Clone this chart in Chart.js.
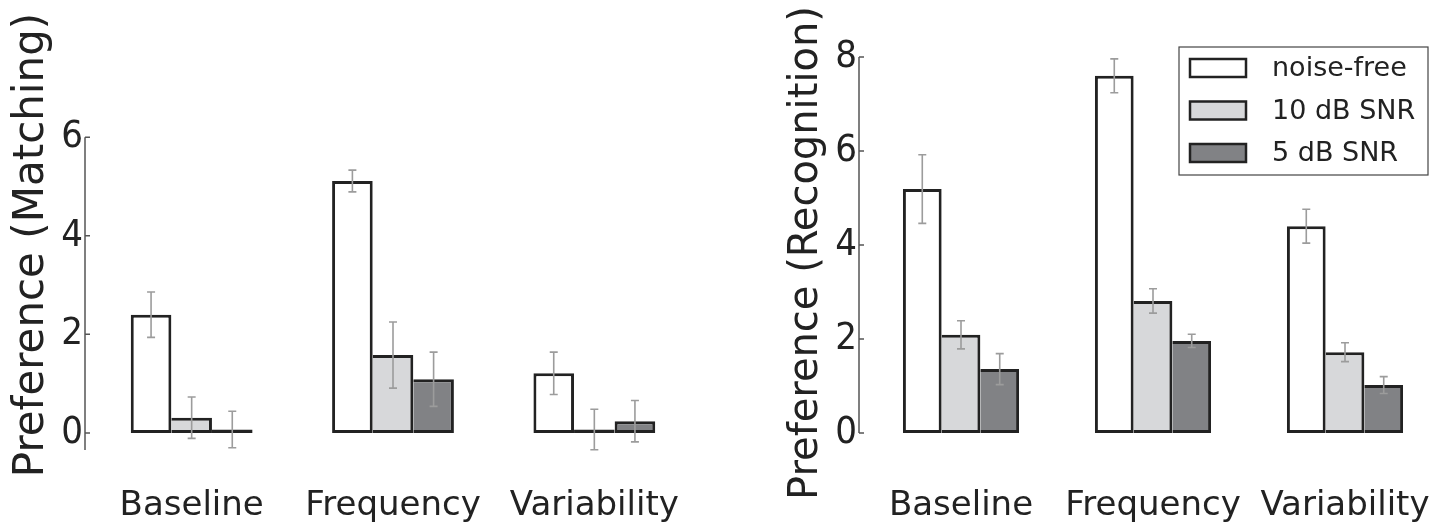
<!DOCTYPE html>
<html>
<head>
<meta charset="utf-8">
<script src="https://cdn.jsdelivr.net/npm/chart.js@4.4.1/dist/chart.umd.min.js"></script>
<style>
  html, body { margin: 0; padding: 0; background: #fff; }
  #wrap { position: relative; width: 1441px; height: 523px; overflow: hidden; }
  .box { position: absolute; top: 0; height: 523px; }
  #left { left: 0; width: 720px; }
  #right { left: 720px; width: 721px; }
</style>
</head>
<body>
<div id="wrap">
  <div class="box" id="left"><canvas id="matching"></canvas></div>
  <div class="box" id="right"><canvas id="recognition"></canvas></div>
</div>
<script>
"use strict";

const categories = ["Baseline", "Frequency", "Variability"],
  seriesNames = ["noise-free", "10 dB SNR", "5 dB SNR"],
  // matching panel
  matchNoiseFree = [2.40, 5.11, 1.21],
  matchSnr10 = [0.31, 1.58, 0.07],
  matchSnr5 = [0.07, 1.09, 0.24],
  matchErrNoiseFree = [0.46, 0.22, 0.43],
  matchErrSnr10 = [0.42, 0.67, 0.41],
  matchErrSnr5 = [0.37, 0.55, 0.42],
  matchTicks = [0, 2, 4, 6],
  // recognition panel
  recogNoiseFree = [5.19, 7.60, 4.40],
  recogSnr10 = [2.09, 2.81, 1.72],
  recogSnr5 = [1.36, 1.96, 1.02],
  recogErrNoiseFree = [0.73, 0.36, 0.36],
  recogErrSnr10 = [0.30, 0.26, 0.20],
  recogErrSnr5 = [0.33, 0.14, 0.18],
  recogTicks = [0, 2, 4, 6, 8];

const fills = ["#ffffff", "#d7d8da", "#818285"],
  edge = "#222222";

// the taller of two neighbouring bars draws their shared edge, so it stays one line thick
function barBorder(c) {
  const sets = c.chart.data.datasets,
    i = c.datasetIndex,
    j = c.dataIndex,
    v = sets[i].data[j];
  return {
    top: 3,
    bottom: 3,
    left: i === 0 || v > sets[i - 1].data[j] ? 3 : 0,
    right: i === sets.length - 1 || v >= sets[i + 1].data[j] ? 3 : 0,
  };
}

// spine with inward ticks, error bars and the framed legend
const paperPlugin = {
  id: "paper",
  afterDatasetsDraw(chart, args, opts) {
    const ctx = chart.ctx,
      y = chart.scales.y;
    ctx.save();
    ctx.strokeStyle = "#9c9c9c";
    ctx.lineWidth = 1.6;
    chart.data.datasets.forEach((ds, i) => {
      chart.getDatasetMeta(i).data.forEach((bar, j) => {
        const top = y.getPixelForValue(ds.data[j] + ds.errors[j]),
          bot = y.getPixelForValue(ds.data[j] - ds.errors[j]);
        ctx.beginPath();
        ctx.moveTo(bar.x, top);
        ctx.lineTo(bar.x, bot);
        ctx.moveTo(bar.x - 4, top);
        ctx.lineTo(bar.x + 4, top);
        ctx.moveTo(bar.x - 4, bot);
        ctx.lineTo(bar.x + 4, bot);
        ctx.stroke();
      });
    });

    const sx = chart.chartArea.left - opts.offset;
    ctx.strokeStyle = "#555";
    ctx.lineWidth = 1.5;
    ctx.beginPath();
    ctx.moveTo(sx, y.getPixelForValue(opts.from));
    ctx.lineTo(sx, y.getPixelForValue(opts.to));
    y.ticks.forEach((t) => {
      const py = y.getPixelForValue(t.value);
      ctx.moveTo(sx, py);
      ctx.lineTo(sx + 5, py);
    });
    ctx.stroke();

    const lg = opts.legend;
    if (lg) {
      ctx.strokeStyle = "#444";
      ctx.lineWidth = 1.2;
      ctx.strokeRect(lg.x, lg.y, lg.w, lg.h);
      ctx.font = "27px 'DejaVu Sans'";
      ctx.textBaseline = "middle";
      chart.data.datasets.forEach((ds, i) => {
        const cy = lg.y + lg.first + i * lg.step;
        ctx.fillStyle = ds.backgroundColor;
        ctx.fillRect(lg.x + 11, cy - 9, 56, 18);
        ctx.strokeStyle = edge;
        ctx.lineWidth = 2.5;
        ctx.strokeRect(lg.x + 11, cy - 9, 56, 18);
        ctx.fillStyle = edge;
        ctx.fillText(ds.label, lg.x + 93, cy + 1);
      });
    }
    ctx.restore();
  },
};

function makeChart(id, series, errors, cfg) {
  const ctx = document.getElementById(id).getContext("2d");
  return new Chart(ctx, {
    type: "bar",
    data: {
      labels: categories,
      datasets: series.map((s, i) => ({
        label: seriesNames[i],
        data: s,
        errors: errors[i],
        backgroundColor: fills[i],
        borderColor: edge,
        borderWidth: barBorder,
        borderSkipped: false,
        categoryPercentage: 0.605,
        barPercentage: 1,
      })),
    },
    options: {
      responsive: true,
      maintainAspectRatio: false,
      animation: false,
      devicePixelRatio: 1,
      layout: { padding: cfg.padding },
      plugins: {
        legend: { display: false },
        tooltip: { enabled: false },
        paper: { offset: 6, from: cfg.spineFrom, to: cfg.spineTo, legend: cfg.legend },
      },
      scales: {
        x: {
          grid: { display: false, drawTicks: false },
          border: { display: false },
          ticks: {
            color: edge,
            padding: cfg.xPad,
            font: { family: "'DejaVu Sans'", size: 34 },
          },
          afterFit: (scale) => {
            scale.height = cfg.xHeight;
            scale.paddingLeft = 0;
            scale.paddingRight = 0;
          },
        },
        y: {
          min: cfg.yMin,
          max: cfg.yMax,
          grid: { display: false, drawTicks: false },
          border: { display: false },
          ticks: {
            color: edge,
            padding: 8,
            font: { family: "'DejaVu Sans Condensed', 'DejaVu Sans'", size: 38 },
          },
          afterBuildTicks: (scale) => { scale.ticks = cfg.ticks.map((v) => ({ value: v })); },
          afterFit: (scale) => { scale.width = cfg.yWidth; },
          title: {
            display: true,
            text: cfg.title,
            color: edge,
            padding: { top: cfg.titlePad, bottom: 0 },
            font: { family: "'DejaVu Sans'", size: cfg.titleSize },
          },
        },
      },
    },
    plugins: [paperPlugin],
  });
}

makeChart("matching",
  [matchNoiseFree, matchSnr10, matchSnr5],
  [matchErrNoiseFree, matchErrSnr10, matchErrSnr5],
  {
    ticks: matchTicks, yMin: -0.345, yMax: 7.97, spineFrom: 6, spineTo: -0.345,
    padding: { top: 40, right: 25, left: 0, bottom: 0 },
    yWidth: 91, xHeight: 73, xPad: 36,
    title: "Preference (Matching)", titleSize: 42, titlePad: 7,
  });

makeChart("recognition",
  [recogNoiseFree, recogSnr10, recogSnr5],
  [recogErrNoiseFree, recogErrSnr10, recogErrSnr5],
  {
    ticks: recogTicks, yMin: -0.34, yMax: 8, spineFrom: 8, spineTo: 0,
    padding: { top: 57, right: 0, left: 0, bottom: 0 },
    yWidth: 145, xHeight: 74, xPad: 37,
    title: "Preference (Recognition)", titleSize: 40, titlePad: 63,
    legend: { x: 459, y: 47, w: 249, h: 128, first: 21, step: 42.5 },
  });
</script>
</body>
</html>
